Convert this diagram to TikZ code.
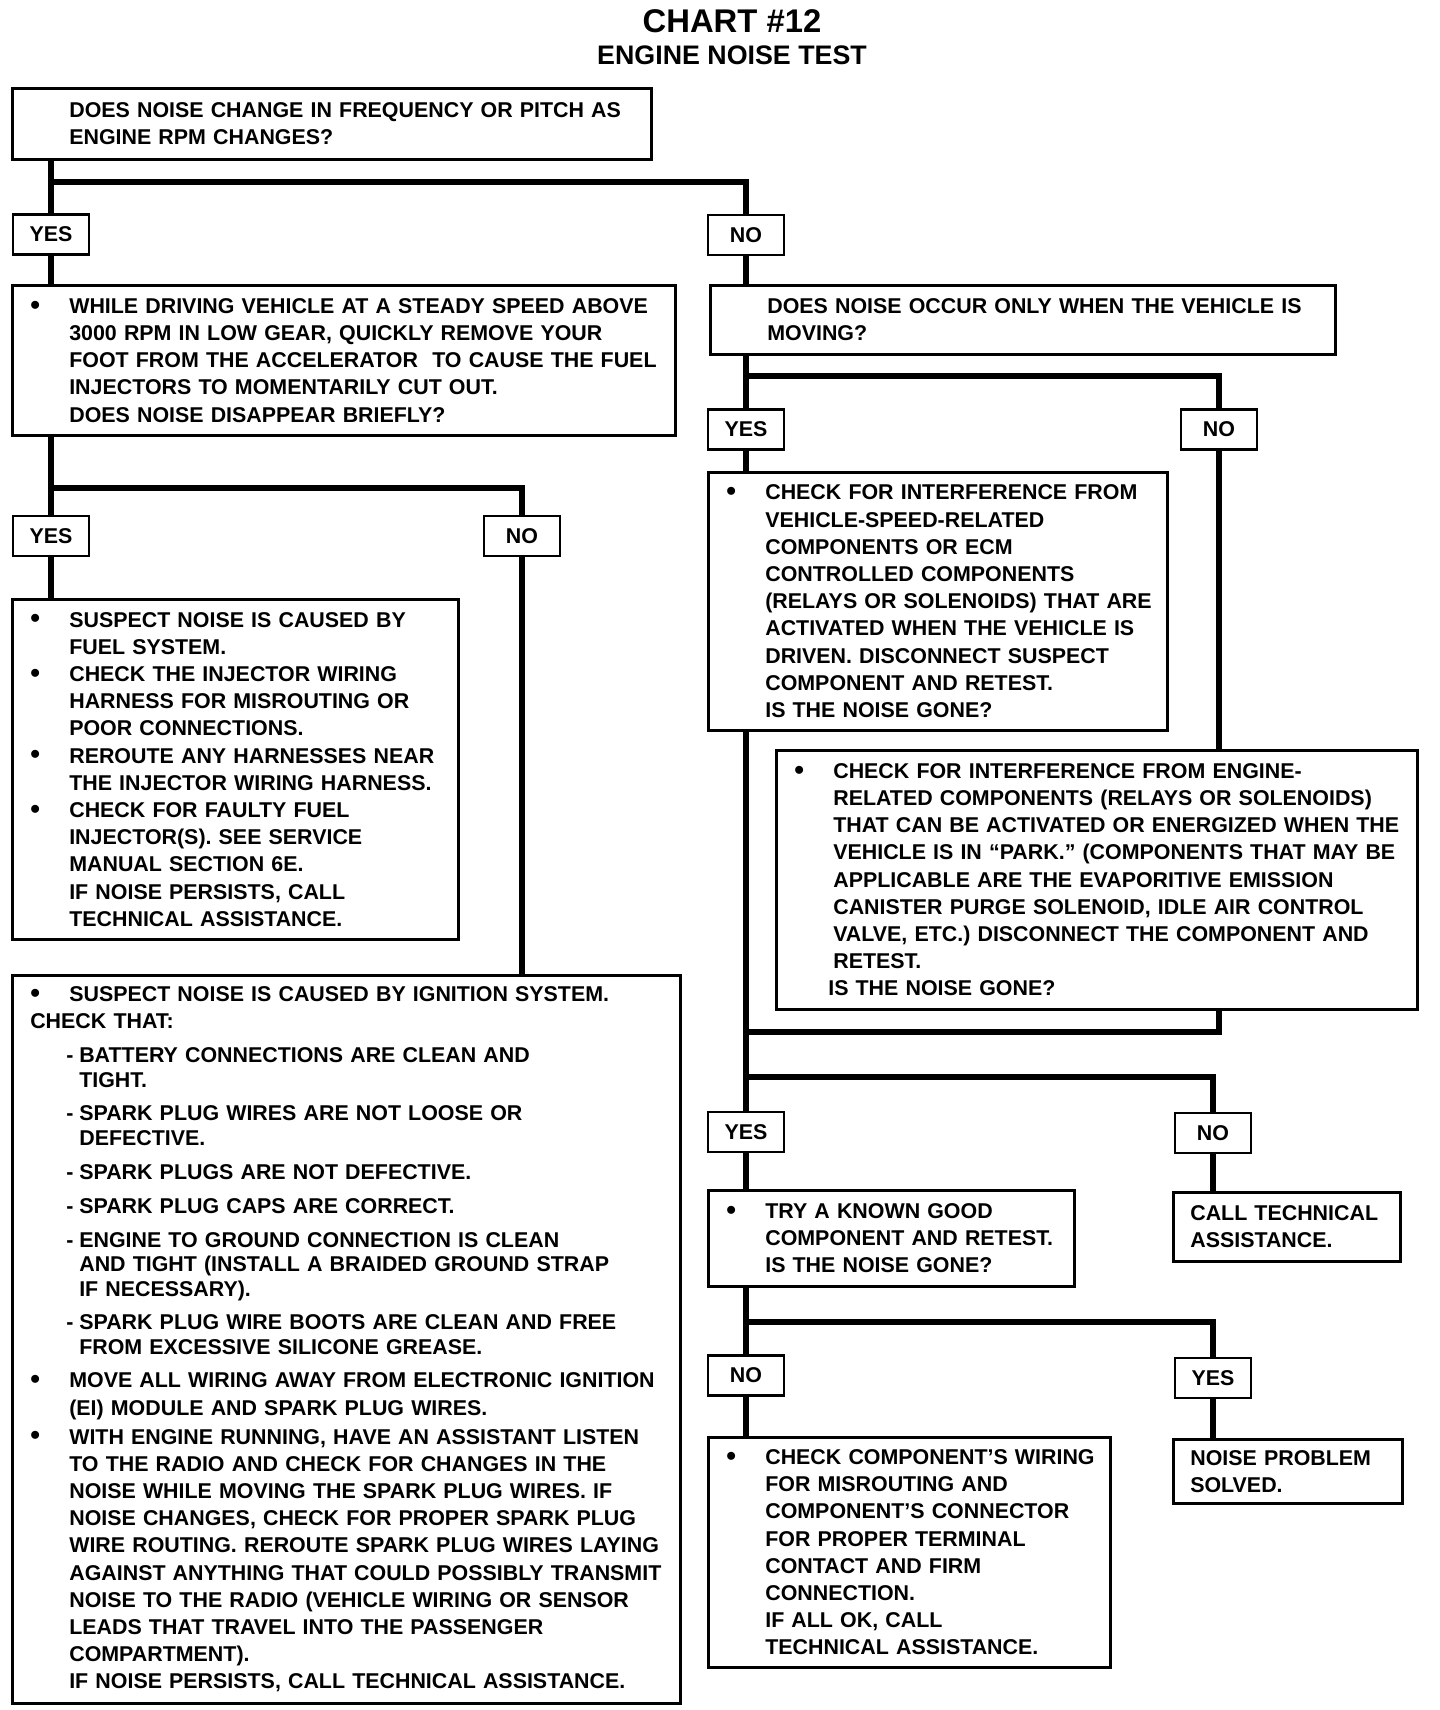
\documentclass[tikz,border=0pt]{standalone}
\usepackage{fontspec}
\setmainfont{Liberation Sans}
\setlength{\parindent}{0pt}

\newcommand{\boxfont}{\fontsize{10.7}{13.6}\selectfont\bfseries}
\newcommand{\ind}{\hspace*{28.5pt}}
\newcommand{\bul}{\hspace*{9pt}\makebox[19.5pt][l]{\raisebox{-0.4pt}{\scalebox{1.3}{\textbullet}}}}
\newcommand{\dsh}{\hspace*{27pt}\makebox[6.5pt][l]{-}}
\newcommand{\dtx}{\hspace*{33.5pt}}

\begin{document}
\begin{tikzpicture}[x=0.5pt,y=-0.5pt,
		box/.style={draw, line width=1.3pt, anchor=north west, inner xsep=0pt, inner ysep=0pt, align=left, font=\boxfont},
		lbl/.style={draw, line width=1.3pt, minimum width=38pt, minimum height=20pt, inner sep=0pt, font=\boxfont},
		wire/.style={line width=2.8pt}]
	\useasboundingbox (0,0) rectangle (1440,1710);

	%% title
	\node[anchor=base, font=\fontsize{16.4}{18}\selectfont\bfseries] (title) at (732,32) {CHART \#12};
	\node[anchor=base, font=\fontsize{13.4}{15}\selectfont\bfseries] (subtitle) at (732,64) {ENGINE NOISE TEST};

	%% left column
	\node[box, text width=319.5pt, minimum height=35.5pt] (q1) at (11,87)
		{\ind DOES NOISE CHANGE IN FREQUENCY OR PITCH AS\\
		\ind ENGINE RPM CHANGES?};
	\node[lbl] (yes1) at (51,234.5) {YES};
	\node[lbl] (no1) at (746,235) {NO};
	\node[box, text width=331.5pt, minimum height=75pt] (drive) at (11,284)
		{\bul WHILE DRIVING VEHICLE AT A STEADY SPEED ABOVE\\
		\ind 3000 RPM IN LOW GEAR, QUICKLY REMOVE YOUR\\
		\ind FOOT FROM THE ACCELERATOR\ \ TO CAUSE THE FUEL\\
		\ind INJECTORS TO MOMENTARILY CUT OUT.\\
		\ind DOES NOISE DISAPPEAR BRIEFLY?};
	\node[lbl] (yes2) at (51,536) {YES};
	\node[lbl] (no2) at (522,536) {NO};
	\node[box, text width=223pt, minimum height=170pt] (fuel) at (11,598)
		{\bul SUSPECT NOISE IS CAUSED BY\\
		\ind FUEL SYSTEM.\\
		\bul CHECK THE INJECTOR WIRING\\
		\ind HARNESS FOR MISROUTING OR\\
		\ind POOR CONNECTIONS.\\
		\bul REROUTE ANY HARNESSES NEAR\\
		\ind THE INJECTOR WIRING HARNESS.\\
		\bul CHECK FOR FAULTY FUEL\\
		\ind INJECTOR(S). SEE SERVICE\\
		\ind MANUAL SECTION 6E.\\
		\ind IF NOISE PERSISTS, CALL\\
		\ind TECHNICAL ASSISTANCE.};
	\node[box, text width=334pt, minimum height=364pt] (ign) at (11,974)
		{\bul SUSPECT NOISE IS CAUSED BY IGNITION SYSTEM.\\
		\hspace*{9pt}CHECK THAT:\\[3.4pt]
		\dsh BATTERY CONNECTIONS ARE CLEAN AND\\[-1.1pt]
		\dtx TIGHT.\\[3pt]
		\dsh SPARK PLUG WIRES ARE NOT LOOSE OR\\[-1.1pt]
		\dtx DEFECTIVE.\\[3.4pt]
		\dsh SPARK PLUGS ARE NOT DEFECTIVE.\\[3.4pt]
		\dsh SPARK PLUG CAPS ARE CORRECT.\\[3pt]
		\dsh ENGINE TO GROUND CONNECTION IS CLEAN\\[-1.4pt]
		\dtx AND TIGHT (INSTALL A BRAIDED GROUND STRAP\\[-1.1pt]
		\dtx IF NECESSARY).\\[3pt]
		\dsh SPARK PLUG WIRE BOOTS ARE CLEAN AND FREE\\[-1.1pt]
		\dtx FROM EXCESSIVE SILICONE GREASE.\\[3pt]
		\bul MOVE ALL WIRING AWAY FROM ELECTRONIC IGNITION\\
		\ind (EI) MODULE AND SPARK PLUG WIRES.\\[0.9pt]
		\bul WITH ENGINE RUNNING, HAVE AN ASSISTANT LISTEN\\
		\ind TO THE RADIO AND CHECK FOR CHANGES IN THE\\
		\ind NOISE WHILE MOVING THE SPARK PLUG WIRES. IF\\
		\ind NOISE CHANGES, CHECK FOR PROPER SPARK PLUG\\
		\ind WIRE ROUTING. REROUTE SPARK PLUG WIRES LAYING\\
		\ind AGAINST ANYTHING THAT COULD POSSIBLY TRANSMIT\\
		\ind NOISE TO THE RADIO (VEHICLE WIRING OR SENSOR\\
		\ind LEADS THAT TRAVEL INTO THE PASSENGER\\
		\ind COMPARTMENT).\\
		\ind IF NOISE PERSISTS, CALL TECHNICAL ASSISTANCE.};

	%% right column
	\node[box, text width=312.5pt, minimum height=34.5pt] (moving) at (709,284)
		{\ind DOES NOISE OCCUR ONLY WHEN THE VEHICLE IS\\
		\ind MOVING?};
	\node[lbl] (yes3) at (746,429.5) {YES};
	\node[lbl] (no3) at (1219,429.5) {NO};
	\node[box, text width=229.5pt, minimum height=129pt] (chkveh) at (707,471)
		{\bul CHECK FOR INTERFERENCE FROM\\
		\ind VEHICLE-SPEED-RELATED\\
		\ind COMPONENTS OR ECM\\
		\ind CONTROLLED COMPONENTS\\
		\ind (RELAYS OR SOLENOIDS) THAT ARE\\
		\ind ACTIVATED WHEN THE VEHICLE IS\\
		\ind DRIVEN. DISCONNECT SUSPECT\\
		\ind COMPONENT AND RETEST.\\
		\ind IS THE NOISE GONE?};
	\node[box, text width=320.5pt, minimum height=129.5pt] (chkeng) at (775,749)
		{\bul CHECK FOR INTERFERENCE FROM ENGINE-\\
		\ind RELATED COMPONENTS (RELAYS OR SOLENOIDS)\\
		\ind THAT CAN BE ACTIVATED OR ENERGIZED WHEN THE\\
		\ind VEHICLE IS IN “PARK.” (COMPONENTS THAT MAY BE\\
		\ind APPLICABLE ARE THE EVAPORITIVE EMISSION\\
		\ind CANISTER PURGE SOLENOID, IDLE AIR CONTROL\\
		\ind VALVE, ETC.) DISCONNECT THE COMPONENT AND\\
		\ind RETEST.\\
		\hspace*{26pt}IS THE NOISE GONE?};
	\node[lbl] (yes4) at (746,1132) {YES};
	\node[lbl] (no4) at (1213,1133) {NO};
	\node[box, text width=183pt, minimum height=48pt] (known) at (707,1189)
		{\bul TRY A KNOWN GOOD\\
		\ind COMPONENT AND RETEST.\\
		\ind IS THE NOISE GONE?};
	\node[box, text width=113.5pt, minimum height=34.5pt] (tech) at (1172,1191)
		{\hspace*{8.5pt}CALL TECHNICAL\\
		\hspace*{8.5pt}ASSISTANCE.};
	\node[lbl] (no5) at (746,1375.5) {NO};
	\node[lbl] (yes5) at (1213,1378) {YES};
	\node[box, text width=201pt, minimum height=115pt] (wiring) at (707,1436)
		{\bul CHECK COMPONENT’S WIRING\\
		\ind FOR MISROUTING AND\\
		\ind COMPONENT’S CONNECTOR\\
		\ind FOR PROPER TERMINAL\\
		\ind CONTACT AND FIRM\\
		\ind CONNECTION.\\
		\ind IF ALL OK, CALL\\
		\ind TECHNICAL ASSISTANCE.};
	\node[box, text width=114.5pt, minimum height=32pt] (solved) at (1172,1438)
		{\hspace*{8.5pt}NOISE PROBLEM\\
		\hspace*{8.5pt}SOLVED.};

	%% branch points
	\coordinate (j1) at (51,182);
	\coordinate (j2) at (51,488);
	\coordinate (j3) at (746,376);
	\coordinate (j4) at (746,1032);
	\coordinate (j5) at (746,1077);
	\coordinate (j6) at (746,1322);

	%% left connectors
	\draw[wire] (q1.south -| yes1) -- (yes1.north);
	\draw[wire] (j1) -| (no1.north);
	\draw[wire] (yes1.south) -- (yes1.south |- drive.north);
	\draw[wire] (drive.south -| yes2) -- (yes2.north);
	\draw[wire] (j2) -| (no2.north);
	\draw[wire] (yes2.south) -- (yes2.south |- fuel.north);
	\draw[wire] (no2.south) -- (no2.south |- ign.north);

	%% right connectors
	\draw[wire] (no1.south) -- (no1.south |- moving.north);
	\draw[wire] (moving.south -| yes3) -- (yes3.north);
	\draw[wire] (j3) -| (no3.north);
	\draw[wire] (yes3.south) -- (yes3.south |- chkveh.north);
	\draw[wire] (no3.south) -- (no3.south |- chkeng.north);
	\draw[wire] (chkveh.south -| yes4) -- (yes4.north);
	\draw[wire] (chkeng.south -| no3) |- (j4);
	\draw[wire] (j5) -| (no4.north);
	\draw[wire] (yes4.south) -- (yes4.south |- known.north);
	\draw[wire] (no4.south) -- (no4.south |- tech.north);
	\draw[wire] (known.south -| no5) -- (no5.north);
	\draw[wire] (j6) -| (yes5.north);
	\draw[wire] (no5.south) -- (no5.south |- wiring.north);
	\draw[wire] (yes5.south) -- (yes5.south |- solved.north);
\end{tikzpicture}
\end{document}
